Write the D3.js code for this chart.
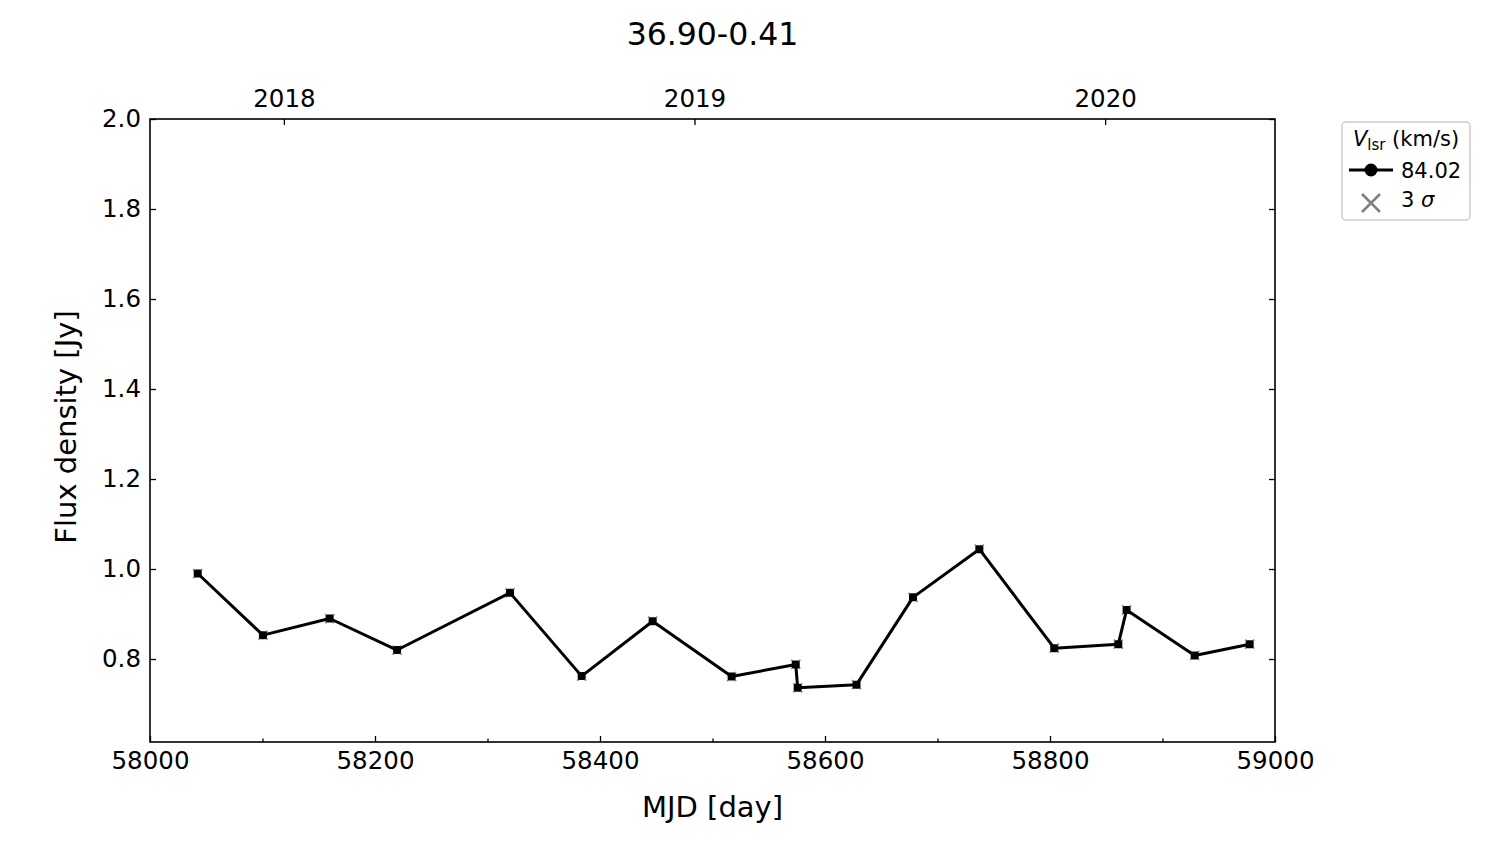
<!DOCTYPE html>
<html>
<head>
<meta charset="utf-8">
<script src="https://cdn.jsdelivr.net/npm/d3@7"></script>
<style>
  body { margin: 0; background: #fff; }
  text { font-family: "DejaVu Sans", sans-serif; fill: #000; }
</style>
</head>
<body>
<svg id="chart" width="1500" height="844"></svg>
<script>
const title = "36.90-0.41";
const mjd = [58042.4, 58100.4, 58159.7, 58219.6, 58320.0, 58383.7, 58446.8, 58517.0, 58574.0, 58575.7, 58628.0, 58678.2, 58737.2, 58803.8, 58860.7, 58868.1, 58928.6, 58977.5];
const flux = [0.990, 0.853, 0.890, 0.820, 0.947, 0.762, 0.884, 0.761, 0.788, 0.736, 0.743, 0.937, 1.044, 0.824, 0.833, 0.909, 0.808, 0.833];
const xMajorTicks = [58000, 58200, 58400, 58600, 58800, 59000];
const xMinorTicks = [58100, 58300, 58500, 58700, 58900];
const yTicks = [0.8, 1.0, 1.2, 1.4, 1.6, 1.8, 2.0];
const yearLabels = ["2018", "2019", "2020"];
const yearMjd = [58119, 58484, 58849];
const legendVelocity = "84.02";

const svg = d3.select("#chart");
const L = 150, R = 1275, T = 119, B = 742;
const x = d3.scaleLinear().domain([58000, 59000]).range([L, R]);
const y = d3.scaleLinear().domain([0.6156, 2.0]).range([B, T]);

const fmtY = d3.format(".1f");

const gB = svg.append("g").attr("transform", `translate(0,${B})`)
  .call(d3.axisBottom(x).tickValues(xMajorTicks).tickSize(-6).tickPadding(10).tickFormat(d3.format("d")));
gB.append("g").call(d3.axisBottom(x).tickValues(xMinorTicks).tickSize(-3.5).tickFormat(""));
const gT = svg.append("g").attr("transform", `translate(0,${T})`)
  .call(d3.axisTop(x).tickValues(yearMjd).tickSize(-6).tickPadding(12).tickFormat((d, i) => yearLabels[i]));
const gL = svg.append("g").attr("transform", `translate(${L},0)`)
  .call(d3.axisLeft(y).tickValues(yTicks).tickSize(-6).tickPadding(9).tickFormat(fmtY));
const gR = svg.append("g").attr("transform", `translate(${R},0)`)
  .call(d3.axisRight(y).tickValues(yTicks).tickSize(-6).tickFormat(""));

[gB, gT, gL, gR].forEach(g => {
  g.selectAll(".domain").remove();
  g.selectAll("line").attr("stroke", "#000").attr("stroke-width", 1.3);
  g.selectAll("text").attr("font-size", 24.5).attr("font-family", "DejaVu Sans").attr("fill", "#000");
});

svg.append("rect").attr("x", L).attr("y", T).attr("width", R - L).attr("height", B - T)
  .attr("fill", "none").attr("stroke", "#000").attr("stroke-width", 1.6);

const pts = mjd.map((d, i) => [d, flux[i]]);
const s = 4.5;
svg.append("g").selectAll("path").data(pts).join("path")
  .attr("d", d => { const cx = x(d[0]), cy = y(d[1]); return `M${cx-s},${cy-s}L${cx+s},${cy+s}M${cx-s},${cy+s}L${cx+s},${cy-s}`; })
  .attr("stroke", "#808080").attr("stroke-width", 1.8).attr("fill", "none");
svg.append("path").datum(pts)
  .attr("d", d3.line().x(d => x(d[0])).y(d => y(d[1])))
  .attr("fill", "none").attr("stroke", "#000").attr("stroke-width", 3).attr("stroke-linejoin", "round");
svg.append("g").selectAll("rect").data(pts).join("rect")
  .attr("x", d => x(d[0]) - 4).attr("y", d => y(d[1]) - 4).attr("width", 8).attr("height", 8).attr("rx", 2).attr("fill", "#000");

svg.append("text").attr("x", (L + R) / 2).attr("y", 45).attr("text-anchor", "middle").attr("font-size", 31.5).text(title);
svg.append("text").attr("x", (L + R) / 2).attr("y", 817).attr("text-anchor", "middle").attr("font-size", 29).text("MJD [day]");
svg.append("text").attr("transform", `translate(76,427) rotate(-90)`).attr("text-anchor", "middle").attr("font-size", 29).text("Flux density [Jy]");

const lg = svg.append("g");
lg.append("rect").attr("x", 1342).attr("y", 122).attr("width", 128).attr("height", 98).attr("rx", 4)
  .attr("fill", "#fff").attr("stroke", "#cccccc").attr("stroke-width", 1.5);
const lt = lg.append("text").attr("x", 1406).attr("y", 146).attr("text-anchor", "middle").attr("font-size", 21);
lt.append("tspan").attr("font-style", "italic").text("V");
lt.append("tspan").attr("font-size", 15).attr("dy", 4).text("lsr");
lt.append("tspan").attr("dy", -4).text(" (km/s)");
lg.append("line").attr("x1", 1349).attr("x2", 1393).attr("y1", 170).attr("y2", 170).attr("stroke", "#000").attr("stroke-width", 3);
lg.append("circle").attr("cx", 1371).attr("cy", 170).attr("r", 6.5).attr("fill", "#000");
lg.append("text").attr("x", 1401).attr("y", 178).attr("font-size", 21).text(legendVelocity);
const xs = 9, lx = 1371, ly = 203;
lg.append("path").attr("d", `M${lx-xs},${ly-xs}L${lx+xs},${ly+xs}M${lx-xs},${ly+xs}L${lx+xs},${ly-xs}`)
  .attr("stroke", "#808080").attr("stroke-width", 2.5).attr("fill", "none");
const st = lg.append("text").attr("x", 1401).attr("y", 207).attr("font-size", 21);
st.append("tspan").text("3 ");
st.append("tspan").attr("font-style", "italic").text("σ");
</script>
</body>
</html>
